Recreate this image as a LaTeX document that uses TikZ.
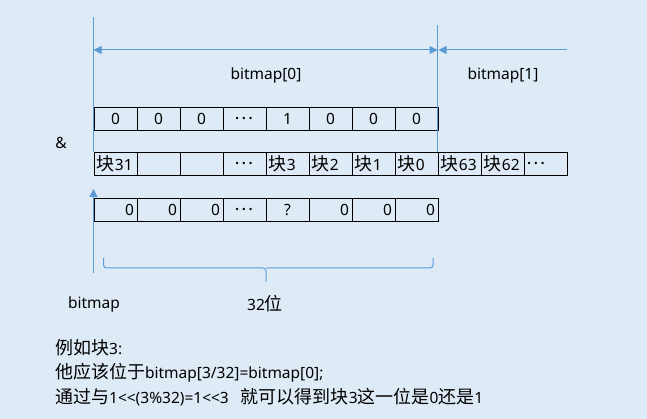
\documentclass[tikz,border=0pt]{standalone}
\usepackage{fontspec}
\setmainfont{Noto Sans}[Ligatures=TeXOff]
\newfontfamily\cjkf{Noto Sans CJK SC}[Scale=1.16,Ligatures=TeXOff]
\newcommand\zh[1]{{\cjkf #1}}
\usetikzlibrary{arrows.meta}
\definecolor{bg}{HTML}{DEEBF7}
\definecolor{ln}{HTML}{5B9BD5}
\tikzset{
  cellc/.style={draw=black, line width=0.9pt, minimum height=23pt, text width=37pt, inner xsep=3pt, inner ysep=0pt, align=center, anchor=north west, font=\fontsize{15.5}{16}\selectfont},
  cellr/.style={cellc, align=right},
  celll/.style={cellc, align=left},
  bl/.style={draw=ln, line width=1pt},
  tip/.style={-{Triangle[length=8pt,width=8pt]}},
  lab/.style={font=\fontsize{15.5}{16}\selectfont, inner sep=0pt},
}
\begin{document}
\begin{tikzpicture}[x=1pt,y=-1pt]
\fill[bg] (0,0) rectangle (647,419);
\useasboundingbox (0,0) rectangle (647,419);
% row 1
\foreach \t [count=\i from 0] in {0,0,0,\zh{…},1,0,0,0}
  \node[cellc] (a\i) at (93.5+43*\i,107) {\t};
% row 2
\foreach \t/\s [count=\i from 0] in {\zh{块}31/celll,/celll,/celll,\zh{…}/cellc,\zh{块}3/celll,\zh{块}2/celll,\zh{块}1/celll,\zh{块}0/celll,\zh{块}63/celll,\zh{块}62/celll,\zh{…}/celll}
  \node[\s] (b\i) at (93.5+43*\i,152) {\t};
% row 3
\foreach \t/\s [count=\i from 0] in {0/cellr,0/cellr,0/cellr,\zh{…}/cellc,?/cellc,0/cellr,0/cellr,0/cellr}
  \node[\s] (c\i) at (93.5+43*\i,198) {\t};
% guide lines
\coordinate (ltop) at (93.5,17);
\coordinate (rtop) at (437.5,25);
\coordinate (r1end) at (567,50);
\coordinate (upbase) at (93.5,273);
\draw[bl] (ltop) -- (b0.north west);
\draw[bl] (rtop) -- (b8.north west);
\draw[bl,{Triangle[length=8pt,width=8pt]}-{Triangle[length=8pt,width=8pt]}] (ltop |- r1end) -- (rtop |- r1end);
\draw[bl,tip] (r1end) -- ([xshift=1pt]rtop |- r1end);
\draw[bl,tip] (upbase) -- (93.5,189);
% brace
\draw[bl,rounded corners=3pt] (103.5,258) -- (103.5,268) -- (266,268) -- (266,282);
\draw[bl,rounded corners=3pt] (433,258) -- (433,268) -- (266,268);
% labels
\node[lab] (bm0) at (266,75) {bitmap[0]};
\node[lab] (bm1) at (503,75) {bitmap[1]};
\node[lab] (amp) at (61,143) {\&};
\node[lab] (bm) at (94,304) {bitmap};
\node[lab] (w32) at (265,304) {32\zh{位}};
\node[lab,anchor=west] (t1) at (55,348) {\zh{例如块}3:};
\node[lab,anchor=west] (t2) at (55,373) {\zh{他应该位于}bitmap[3/32]=bitmap[0];};
\node[lab,anchor=west] (t3) at (55,397) {\zh{通过与}1<<(3\%32)=1<<3\ \ \ \zh{就可以得到块}3\zh{这一位是}0\zh{还是}1};
\end{tikzpicture}
\end{document}
